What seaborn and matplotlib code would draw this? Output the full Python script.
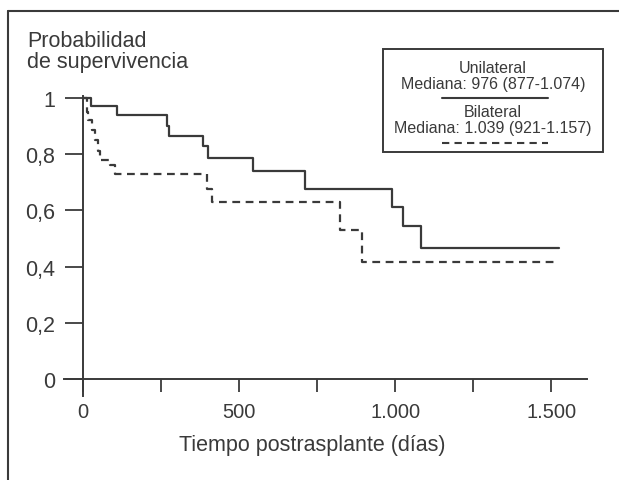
import matplotlib
matplotlib.use("Agg")
import matplotlib.pyplot as plt
from matplotlib.lines import Line2D
from matplotlib.patches import Rectangle
import pandas as pd
import seaborn as sns

# Kaplan-Meier steps (time of drop in days, survival after drop)
uni_days = [0, 26, 109, 268, 274, 384, 401, 545, 711, 990, 1026, 1083, 1526]
uni_surv = [1.0, 0.97, 0.94, 0.90, 0.865, 0.83, 0.786, 0.74, 0.676, 0.612, 0.545, 0.466, 0.466]
bil_days = [0, 12, 17, 28, 38, 49, 54, 87, 103, 397, 413, 824, 894, 1526]
bil_surv = [1.0, 0.95, 0.92, 0.885, 0.85, 0.81, 0.78, 0.76, 0.73, 0.676, 0.63, 0.53, 0.416, 0.416]

x_ticks = [0, 250, 500, 750, 1000, 1250, 1500]
x_labels = ["0", "", "500", "", "1.000", "", "1.500"]
y_ticks = [0, 0.2, 0.4, 0.6, 0.8, 1]
y_labels = ["0", "0,2", "0,4", "0,6", "0,8", "1"]

df = pd.concat([
    pd.DataFrame({"dias": uni_days, "surv": uni_surv, "grupo": "Unilateral"}),
    pd.DataFrame({"dias": bil_days, "surv": bil_surv, "grupo": "Bilateral"}),
])

sns.set_style("white")
plt.rcParams["font.family"] = ["Liberation Sans", "DejaVu Sans"]
ink = "#3a3a3a"

fig = plt.figure(figsize=(6.19, 4.81), dpi=100)
ax = fig.add_axes([0.1034, 0.1746, 0.845, 0.6237])

sns.lineplot(data=df, x="dias", y="surv", hue="grupo", style="grupo",
             palette={"Unilateral": ink, "Bilateral": ink},
             dashes={"Unilateral": "", "Bilateral": (3.5, 2.5)},
             drawstyle="steps-post", linewidth=1.6, legend=False, ax=ax,
             estimator=None)

ax.set_xlim(-61, 1615)
ax.set_ylim(-0.06, 1.007)
for s in ["top", "right"]:
    ax.spines[s].set_visible(False)
ax.spines["left"].set_position(("data", 0))
ax.spines["bottom"].set_position(("data", 0))
for s in ["left", "bottom"]:
    ax.spines[s].set_color(ink)
    ax.spines[s].set_linewidth(1.4)

ax.set_xticks(x_ticks)
ax.set_xticklabels(x_labels)
ax.set_yticks(y_ticks)
ax.set_yticklabels(y_labels)
ax.tick_params(axis="x", bottom=True, direction="out", length=9.5, width=1.3, color=ink,
               pad=7, labelsize=14.5, labelcolor=ink)
ax.tick_params(axis="y", left=True, direction="out", length=13, width=1.3, color=ink,
               pad=7, labelsize=15.5, labelcolor=ink)
ax.set_xlabel("")
ax.set_ylabel("")

fig.text(0.504, 0.074, "Tiempo postrasplante (días)", ha="center", va="center",
         fontsize=15.5, color=ink)
fig.text(0.044, 0.891, "Probabilidad\nde supervivencia", ha="left", va="center",
         fontsize=15.5, color=ink, linespacing=1.0)

# legend box
fig.add_artist(Rectangle((0.619, 0.682), 0.355, 0.214, transform=fig.transFigure,
                         fill=False, edgecolor=ink, linewidth=1.4))
cx = 0.7965
fig.text(cx, 0.857, "Unilateral", ha="center", va="center", fontsize=11.5, color=ink)
fig.text(cx, 0.824, "Mediana: 976 (877-1.074)", ha="center", va="center", fontsize=11.5, color=ink)
fig.add_artist(Line2D([0.714, 0.885], [0.794, 0.794], transform=fig.transFigure,
                      color=ink, linewidth=1.5))
fig.text(cx, 0.767, "Bilateral", ha="center", va="center", fontsize=11.5, color=ink)
fig.text(cx, 0.732, "Mediana: 1.039 (921-1.157)", ha="center", va="center", fontsize=11.5, color=ink)
fig.add_artist(Line2D([0.714, 0.885], [0.701, 0.701], transform=fig.transFigure,
                      color=ink, linewidth=1.5, dashes=(3.5, 2.5)))

# outer frame of the scanned figure
fig.add_artist(Line2D([0.013, 0.013], [0.0, 0.975], transform=fig.transFigure,
                      color=ink, linewidth=1.5))
fig.add_artist(Line2D([0.013, 1.0], [0.975, 0.975], transform=fig.transFigure,
                      color=ink, linewidth=1.5))

fig.savefig("out.png", dpi=100)
plt.close(fig)
